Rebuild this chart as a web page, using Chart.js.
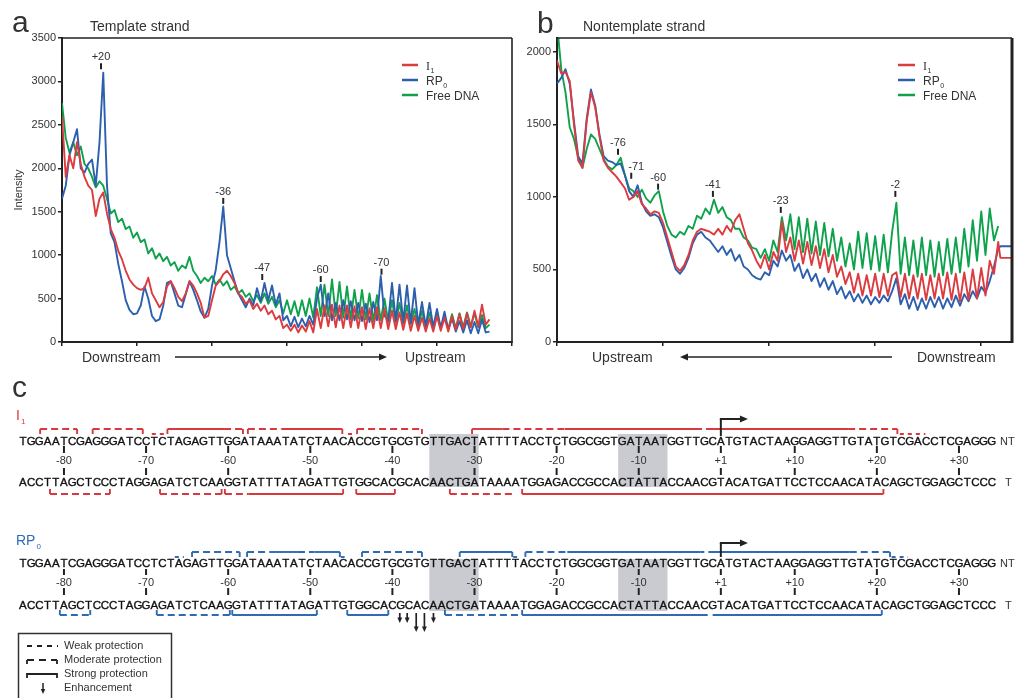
<!DOCTYPE html>
<html lang="en">
<head>
<meta charset="UTF-8">
<title>Footprinting traces</title>
<script src="https://cdn.jsdelivr.net/npm/chart.js"></script>
<style>
  body { margin: 0; background: #fff; }
  #page { position: relative; width: 1018px; height: 698px; overflow: hidden; }
  canvas { position: absolute; }
</style>
</head>
<body>
<div id="page">
  <canvas id="chartA" style="left:0;top:0" width="515" height="372"></canvas>
  <canvas id="chartB" style="left:515px;top:0" width="503" height="372"></canvas>
  <canvas id="chartC" style="left:0;top:372px" width="1018" height="326"></canvas>
</div>
<script>
// ---------- panel a : template strand (one sample every 5 x-units) ----------
const aStep = 5;
const aGreen = [2750,2350,2180,2300,2150,2250,2050,2000,1900,1780,
  1850,1800,1650,1480,1520,1380,1420,1300,1330,1200,
  1260,1150,1180,1020,1080,960,1020,930,980,880,
  920,820,880,850,980,820,760,680,740,700,
  760,660,720,650,700,600,640,560,600,520,
  560,470,540,450,560,440,520,400,480,330,
  480,320,470,300,480,300,500,280,630,300,
  660,300,720,300,690,280,640,260,600,270,
  600,260,560,240,540,250,500,230,480,220,
  450,210,420,200,380,180,360,170,340,170,
  320,160,300,150,320,160,330,170,340,180,
  330,170,310,160,200];
const aBlue = [1650,1800,2150,2300,2450,2000,1950,2050,2100,1800,
  2300,3100,1800,1250,1150,900,700,480,370,320,
  330,420,640,500,300,240,260,420,680,700,
  560,420,400,550,700,600,480,350,280,380,
  650,830,1150,1560,1000,850,700,560,480,400,
  500,420,620,470,680,480,650,430,560,250,
  300,180,290,170,270,180,300,200,500,660,
  300,560,250,450,250,480,260,470,250,450,
  240,440,230,460,250,760,300,250,680,240,
  660,230,650,220,620,200,460,180,450,170,
  380,160,350,140,270,120,240,110,250,100,
  230,100,260,110,120];
const aRed = [2600,1900,2150,2000,2300,2050,1900,1800,1750,1450,
  1650,1720,1480,1300,1200,1050,950,820,720,660,
  620,600,620,740,560,480,400,460,640,700,
  620,520,470,560,700,650,560,450,280,300,
  480,650,700,780,820,760,680,560,520,440,
  480,380,440,360,420,320,360,260,300,160,
  200,130,200,110,190,120,240,110,380,160,
  420,180,430,170,420,160,420,170,410,160,
  400,150,390,160,400,160,380,150,360,150,
  340,140,330,130,300,130,280,120,270,120,
  300,130,280,120,300,140,320,150,330,170,
  360,180,430,200,260];
const aXTicks = [0, 100, 200, 300, 400, 500, 600];
const aYTicks = [0, 500, 1000, 1500, 2000, 2500, 3000, 3500];
const aPeakX = [52, 215, 267, 345, 426];
const aPeakY = [3140, 1590, 714, 690, 775];
const aPeakText = ['+20', '-36', '-47', '-60', '-70'];

// ---------- panel b : nontemplate strand (one sample every 4 x-units) ----------
const bStep = 4;
const bGreen = [2200,1880,1720,1480,1400,1270,1200,1330,1430,1400,
  1330,1260,1210,1190,1220,1270,1150,1060,1040,1000,
  1050,990,960,1010,1040,900,800,740,720,760,
  740,800,780,870,850,920,880,980,890,930,
  860,840,780,780,720,700,650,640,580,640,
  560,700,620,860,700,880,640,860,620,850,
  610,830,600,820,590,780,560,720,520,680,
  500,760,510,750,500,730,490,740,480,760,
  960,470,720,460,700,450,720,460,700,450,
  690,460,710,470,720,480,780,520,840,560,
  900,600,920,700,800];
const bRed = [1940,1850,1860,1800,1500,1250,1200,1520,1720,1620,
  1420,1250,1200,1170,1140,1100,1060,980,1000,1040,
  950,920,880,900,890,820,720,620,520,490,
  530,600,700,760,780,770,760,740,780,740,
  800,760,840,880,780,680,630,560,510,600,
  500,620,560,830,620,720,560,700,540,690,
  530,660,510,640,480,600,450,520,400,480,
  340,470,320,460,320,470,310,470,320,460,
  480,310,470,300,460,300,470,290,460,300,
  470,300,480,290,470,280,480,290,500,300,
  510,320,560,470,690];
const bBlue = [1780,1820,1880,1780,1520,1280,1230,1540,1740,1630,
  1430,1280,1250,1240,1220,1230,1150,1040,1000,1080,
  960,900,870,880,860,790,690,590,500,470,
  510,580,680,740,760,720,700,660,620,660,
  600,640,560,600,520,500,460,440,430,480,
  460,560,520,630,560,600,490,540,440,500,
  420,470,380,440,360,420,330,380,300,350,
  280,330,270,320,260,310,270,320,280,350,
  440,260,330,230,310,220,300,230,310,240,
  310,230,300,240,320,250,330,280,350,300,
  380,340,420,520,640];
const bTailX = [418, 429];
const bRedTail = [580, 580];
const bBlueTail = [660, 660];
const bXTicks = [0, 100, 200, 300, 400];
const bYTicks = [0, 500, 1000, 1500, 2000];
const bPeakX = [57.5, 70, 95.3, 147, 211, 319];
const bPeakY = [1290, 1125, 1050, 1000, 890, 1000];
const bPeakText = ['-76', '-71', '-60', '-41', '-23', '-2'];

const keyNames = ['I', 'RP', 'Free DNA'];
const keySubs = ['1', '0', ''];

// ---------- panel c : sequence (index 0 = position -85) ----------
const ntSeq = 'TGGAATCGAGGGATCCTCTAGAGTTGGATAAATATCTAACACCGTGCGTGTTGACTATTTTACCTCTGGCGGTGATAATGGTTGCATGTACTAAGGAGGTTGTATGTCGACCTCGAGGG';
const tSeq  = 'ACCTTAGCTCCCTAGGAGATCTCAAGGTATTTATAGATTGTGGCACGCACAACTGATAAAATGGAGACCGCCACTATTACCAACGTACATGATTCCTCCAACATACAGCTGGAGCTCCC';
const posLabels = ['-80','-70','-60','-50','-40','-30','-20','-10','+1','+10','+20','+30'];
const posIdx = [5, 15, 25, 35, 45, 55, 65, 75, 85, 94, 104, 114];
const boxSpans = [[49.5, 55.5], [72.5, 78.5]];
const tssIdx = 85;

// protection runs: [from, to, strength, lowered]
const i1TopRuns = [[2.1,6.6,'m'],[8.5,14.6,'m'],[15.7,17.5,'w',1],[17.6,24.5,'s'],[24.5,26.8,'m'],
  [27.4,31.5,'m'],[31.5,38.9,'s'],[39.6,40.6,'w',1],[40.7,48.6,'m'],[54.7,58.4,'s'],[58.4,66.0,'m'],
  [66.0,82.7,'s'],[83.2,100.5,'s'],[100.5,106.5,'m'],[106.8,109.9,'w',1]];
const i1TopBr = [2.1,6.6,8.5,14.6,17.6,26.8,27.4,38.9,40.7,48.6,54.7,106.5];
const i1BotRuns = [[3.3,10.6,'m'],[16.7,24.2,'m'],[24.6,27.5,'m'],[27.5,39.0,'s'],[40.6,45.3,'s'],
  [52.0,59.9,'m'],[60.8,104.8,'s']];
const i1BotBr = [3.3,10.6,16.7,24.2,24.6,39.0,40.6,45.3,52.0,60.8,104.8];
const rpTopRuns = [[18.5,19.6,'w',1],[20.6,26.4,'m'],[27.3,30.0,'m'],[30.0,33.5,'s'],[33.5,35.5,'m'],
  [35.5,38.6,'s'],[38.7,39.6,'w',1],[41.3,48.6,'m'],[53.2,59.6,'s'],[59.7,60.6,'w',1],[61.2,66.3,'m'],
  [66.3,82.5,'s'],[82.5,83.8,'w'],[83.8,100.7,'s'],[100.7,105.6,'m'],[105.8,107.8,'w',1]];
const rpTopBr = [20.6,26.4,27.3,38.6,41.3,48.6,53.2,59.6,61.2,105.6];
const rpBotRuns = [[4.5,8.2,'m'],[16.3,25.2,'m'],[25.5,35.8,'s'],[39.5,44.5,'s'],[51.4,60.5,'m'],
  [60.8,83.4,'s'],[84.0,104.6,'s']];
const rpBotBr = [4.5,8.2,16.3,25.2,25.5,35.8,39.5,44.5,51.4,60.8,104.6];
const enhIdx = [45.9, 46.8, 47.9, 48.9, 50.0];
const enhLong = [0, 0, 1, 1, 0];

const RED = '#dc3b3f', BLUE = '#2c5fae', GREEN = '#0fa24d';
const C_RED = '#d9383c', C_BLUE = '#2f6bb5';
const FONT = '"Liberation Sans", Arial, Helvetica, sans-serif';
Chart.defaults.font.family = FONT;
Chart.defaults.color = '#333';

function pts(ys, step) { return ys.map((v, i) => ({ x: i * step, y: v })); }
function tail(xs, ys) { return xs.map((x, k) => ({ x: x, y: ys[k] })); }

function arrow(ctx, x0, y0, x1, y1, size) {
  const ang = Math.atan2(y1 - y0, x1 - x0);
  ctx.beginPath(); ctx.moveTo(x0, y0);
  ctx.lineTo(x1 - Math.cos(ang) * size * 0.8, y1 - Math.sin(ang) * size * 0.8); ctx.stroke();
  ctx.beginPath(); ctx.moveTo(x1, y1);
  ctx.lineTo(x1 - size * Math.cos(ang) + size * 0.45 * Math.sin(ang), y1 - size * Math.sin(ang) - size * 0.45 * Math.cos(ang));
  ctx.lineTo(x1 - size * Math.cos(ang) - size * 0.45 * Math.sin(ang), y1 - size * Math.sin(ang) + size * 0.45 * Math.cos(ang));
  ctx.closePath(); ctx.fill();
}

// box lines on top and right of the plot
const frame = {
  id: 'frame',
  afterDraw(chart, args, o) {
    const { ctx, chartArea: a } = chart;
    ctx.save(); ctx.strokeStyle = '#222';
    ctx.lineWidth = o.top; ctx.beginPath(); ctx.moveTo(a.left, a.top); ctx.lineTo(a.right, a.top); ctx.stroke();
    ctx.lineWidth = o.right; ctx.beginPath(); ctx.moveTo(a.right, a.top); ctx.lineTo(a.right, a.bottom + 1); ctx.stroke();
    ctx.restore();
  }
};

// peak labels with a small tick above the trace
const peaks = {
  id: 'peaks',
  afterDatasetsDraw(chart, args, o) {
    const { ctx, scales: { x, y } } = chart;
    ctx.save();
    o.xs.forEach((v, k) => {
      const px = x.getPixelForValue(v), py = y.getPixelForValue(o.ys[k]);
      ctx.strokeStyle = '#222'; ctx.lineWidth = 2;
      ctx.beginPath(); ctx.moveTo(px, py); ctx.lineTo(px, py - 6); ctx.stroke();
      ctx.font = '11px ' + FONT; ctx.fillStyle = '#333';
      ctx.textAlign = 'center'; ctx.textBaseline = 'alphabetic';
      ctx.fillText(o.labels[k], px + (o.dx ? o.dx[k] : 0), py - 9);
    });
    ctx.restore();
  }
};

// legend with subscripts
const key = {
  id: 'key',
  afterDraw(chart, args, o) {
    const ctx = chart.ctx;
    ctx.save();
    keyNames.forEach((n, k) => {
      const y = o.y0 + k * o.dy;
      ctx.strokeStyle = o.colors[k]; ctx.lineWidth = 2.5;
      ctx.beginPath(); ctx.moveTo(o.x0, y); ctx.lineTo(o.x1, y); ctx.stroke();
      ctx.fillStyle = '#333'; ctx.textAlign = 'left'; ctx.textBaseline = 'alphabetic';
      ctx.font = (n === 'I' ? '12px "Liberation Serif", serif' : '12px ' + FONT);
      ctx.fillText(n, o.tx, y + 4.5);
      if (keySubs[k]) {
        const w = ctx.measureText(n).width;
        ctx.font = '7px ' + FONT;
        ctx.fillText(keySubs[k], o.tx + w + 0.5, y + 7.5);
      }
    });
    ctx.restore();
  }
};

// panel letters, titles and the direction arrows
const notes = {
  id: 'notes',
  afterDraw(chart, args, o) {
    const ctx = chart.ctx;
    ctx.save();
    o.texts.forEach(t => {
      ctx.font = t.font; ctx.fillStyle = '#333'; ctx.textAlign = 'left'; ctx.textBaseline = 'alphabetic';
      ctx.fillText(t.text, t.x, t.y);
    });
    ctx.strokeStyle = '#222'; ctx.fillStyle = '#222'; ctx.lineWidth = 1.6;
    o.arrows.forEach(a => arrow(ctx, a[0], a[2], a[1], a[2], 8));
    ctx.restore();
  }
};

function traceScales(xMax, xTicks, yMax, yTicks, yWidth, title) {
  return {
    x: {
      type: 'linear', min: 0, max: xMax,
      afterBuildTicks: s => { s.ticks = xTicks.map(v => ({ value: v })); },
      ticks: { display: false },
      grid: { drawOnChartArea: false, drawTicks: true, tickLength: 4, color: '#222', lineWidth: 1.5 },
      border: { color: '#222', width: 2 },
      afterFit: s => { s.height = 30; }
    },
    y: {
      type: 'linear', min: 0, max: yMax,
      afterBuildTicks: s => { s.ticks = yTicks.map(v => ({ value: v })); },
      ticks: { font: { size: 11 }, color: '#333', padding: 2, callback: v => String(v) },
      grid: { drawOnChartArea: false, drawTicks: true, tickLength: 4, color: '#222', lineWidth: 1.5 },
      border: { color: '#222', width: 2 },
      title: { display: !!title, text: title || '', font: { size: 11 }, color: '#333', padding: { top: 12, bottom: 0 } },
      afterFit: s => { s.width = yWidth; }
    }
  };
}

function traceSet(label, data, color, order) {
  return { label: label, data: data, borderColor: color, backgroundColor: color, borderWidth: 1.9,
    borderJoinStyle: 'round', order: order, pointRadius: 0, tension: 0 };
}

new Chart(document.getElementById('chartA'), {
  type: 'line',
  data: { datasets: [
    traceSet('I₁', pts(aRed, aStep), RED, 1),
    traceSet('RP₀', pts(aBlue, aStep), BLUE, 2),
    traceSet('Free DNA', pts(aGreen, aStep), GREEN, 3)
  ] },
  options: {
    responsive: false, animation: false,
    layout: { padding: { top: 38, right: 3, left: 0, bottom: 0 } },
    scales: traceScales(600, aXTicks, 3500, aYTicks, 62, 'Intensity'),
    plugins: {
      legend: { display: false }, tooltip: { enabled: false },
      frame: { top: 1.6, right: 1.6 },
      peaks: { xs: aPeakX, ys: aPeakY, labels: aPeakText },
      key: { x0: 402, x1: 418, tx: 426, y0: 65, dy: 15, colors: [RED, BLUE, GREEN] },
      notes: {
        texts: [
          { text: 'a', x: 12, y: 32, font: '30px ' + FONT },
          { text: 'Template strand', x: 90, y: 31, font: '14px ' + FONT },
          { text: 'Downstream', x: 82, y: 362, font: '14px ' + FONT },
          { text: 'Upstream', x: 405, y: 362, font: '14px ' + FONT }
        ],
        arrows: [[175, 387, 357]]
      }
    }
  },
  plugins: [frame, peaks, key, notes]
});

new Chart(document.getElementById('chartB'), {
  type: 'line',
  data: { datasets: [
    traceSet('I₁', pts(bRed, bStep).concat(tail(bTailX, bRedTail)), RED, 1),
    traceSet('RP₀', pts(bBlue, bStep).concat(tail(bTailX, bBlueTail)), BLUE, 2),
    traceSet('Free DNA', pts(bGreen, bStep), GREEN, 3)
  ] },
  options: {
    responsive: false, animation: false,
    layout: { padding: { top: 38, right: 6, left: 0, bottom: 0 } },
    scales: traceScales(429, bXTicks, 2095, bYTicks, 42, ''),
    plugins: {
      legend: { display: false }, tooltip: { enabled: false },
      frame: { top: 1.6, right: 3 },
      peaks: { xs: bPeakX, ys: bPeakY, labels: bPeakText, dx: [0, 5, 0, 0, 0, 0] },
      key: { x0: 383, x1: 400, tx: 408, y0: 65, dy: 15, colors: [RED, BLUE, GREEN] },
      notes: {
        texts: [
          { text: 'b', x: 22, y: 33, font: '30px ' + FONT },
          { text: 'Nontemplate strand', x: 68, y: 31, font: '14px ' + FONT },
          { text: 'Upstream', x: 77, y: 362, font: '14px ' + FONT },
          { text: 'Downstream', x: 402, y: 362, font: '14px ' + FONT }
        ],
        arrows: [[377, 165, 357]]
      }
    }
  },
  plugins: [frame, peaks, key, notes]
});

// ---------- panel c ----------
const blocks = [
  { name: 'I', sub: '1', color: C_RED, labelY: 420, ntY: 442, tY: 483, topY: 429, botY: 494,
    box: [434, 487], tick1: [446, 453], numY: 461, tick2: [468, 475], tssTop: 419, tssBot: 436,
    topRuns: i1TopRuns, topBr: i1TopBr, botRuns: i1BotRuns, botBr: i1BotBr, enh: false },
  { name: 'RP', sub: '0', color: C_BLUE, labelY: 545, ntY: 564, tY: 606, topY: 552, botY: 615,
    box: [559, 611], tick1: [569, 575], numY: 583, tick2: [588, 595], tssTop: 543, tssBot: 557,
    topRuns: rpTopRuns, topBr: rpTopBr, botRuns: rpBotRuns, botBr: rpBotBr, enh: true }
];
const DASH = { w: [4, 4], m: [7, 4], s: [] };
const BR = 5;

const protSets = [];
blocks.forEach(b => {
  [[b.topRuns, b.topBr, b.topY, 1], [b.botRuns, b.botBr, b.botY, -1]].forEach(([runs, brs, lineY, dir]) => {
    runs.forEach(r => {
      const y = r[3] ? lineY + dir * BR : lineY;
      protSets.push({ data: [{ x: r[0], y: y }, { x: r[1], y: y }], borderColor: b.color,
        borderWidth: 1.9, borderDash: DASH[r[2]], pointRadius: 0 });
    });
    brs.forEach(v => {
      protSets.push({ data: [{ x: v, y: lineY }, { x: v, y: lineY + dir * BR }], borderColor: b.color,
        borderWidth: 1.9, pointRadius: 0 });
    });
  });
});

const seqPlug = {
  id: 'seq',
  beforeDatasetsDraw(chart) {
    const { ctx, scales: { x, y } } = chart;
    ctx.save(); ctx.fillStyle = '#c9cbd1';
    blocks.forEach(b => boxSpans.forEach(([s, e]) => {
      const x0 = x.getPixelForValue(s), x1 = x.getPixelForValue(e);
      const y0 = y.getPixelForValue(b.box[0]), y1 = y.getPixelForValue(b.box[1]);
      ctx.fillRect(x0, y0, x1 - x0, y1 - y0);
    }));
    ctx.restore();
  },
  afterDatasetsDraw(chart) {
    const { ctx, scales: { x, y } } = chart;
    const Y = v => y.getPixelForValue(v);
    ctx.save();
    ctx.font = '30px ' + FONT; ctx.fillStyle = '#333'; ctx.textAlign = 'left'; ctx.textBaseline = 'alphabetic';
    ctx.fillText('c', 12, Y(397));
    blocks.forEach(b => {
      // block label
      ctx.fillStyle = b.color; ctx.textBaseline = 'alphabetic'; ctx.textAlign = 'left';
      ctx.font = '14px ' + FONT; ctx.fillText(b.name, 16, Y(b.labelY));
      const w = ctx.measureText(b.name).width;
      ctx.font = '8px ' + FONT; ctx.fillText(b.sub, 16 + w + 1, Y(b.labelY + 4));
      // strands
      ctx.fillStyle = '#111'; ctx.strokeStyle = '#111'; ctx.lineWidth = 0.35;
      ctx.font = '11.5px ' + FONT; ctx.textAlign = 'center'; ctx.textBaseline = 'middle';
      for (let i = 0; i < ntSeq.length; i++) {
        const lx = x.getPixelForValue(i);
        ctx.fillText(ntSeq[i], lx, Y(b.ntY)); ctx.strokeText(ntSeq[i], lx, Y(b.ntY));
        ctx.fillText(tSeq[i], lx, Y(b.tY)); ctx.strokeText(tSeq[i], lx, Y(b.tY));
      }
      ctx.fillStyle = '#333'; ctx.font = '11px ' + FONT; ctx.textAlign = 'left';
      ctx.fillText('NT', 1000, Y(b.ntY));
      ctx.fillText('T', 1005, Y(b.tY));
      // position ticks
      ctx.strokeStyle = '#222'; ctx.lineWidth = 2; ctx.textAlign = 'center';
      posIdx.forEach((p, k) => {
        const px = x.getPixelForValue(p);
        ctx.beginPath(); ctx.moveTo(px, Y(b.tick1[0])); ctx.lineTo(px, Y(b.tick1[1]));
        ctx.moveTo(px, Y(b.tick2[0])); ctx.lineTo(px, Y(b.tick2[1])); ctx.stroke();
        ctx.fillText(posLabels[k], px, Y(b.numY));
      });
      // transcription start
      const sx = x.getPixelForValue(tssIdx);
      ctx.lineWidth = 2; ctx.fillStyle = '#222';
      ctx.beginPath(); ctx.moveTo(sx, Y(b.tssBot)); ctx.lineTo(sx, Y(b.tssTop)); ctx.stroke();
      arrow(ctx, sx - 1, Y(b.tssTop), x.getPixelForValue(tssIdx + 3.3), Y(b.tssTop), 8);
      // enhancements
      if (b.enh) {
        ctx.lineWidth = 1.7;
        enhIdx.forEach((e, k) => {
          const ex = x.getPixelForValue(e);
          arrow(ctx, ex, Y(613), ex, Y(enhLong[k] ? 632 : 623), 5.5);
        });
      }
    });
    // key box
    ctx.strokeStyle = '#333'; ctx.lineWidth = 1.5;
    ctx.strokeRect(18.5, Y(633.5), 153, 80);
    const keyRows = ['Weak protection', 'Moderate protection', 'Strong protection', 'Enhancement'];
    const ky = [646, 660, 674, 688];
    ctx.fillStyle = '#333'; ctx.font = '11px ' + FONT; ctx.textAlign = 'left'; ctx.textBaseline = 'middle';
    keyRows.forEach((t, k) => ctx.fillText(t, 64, Y(ky[k])));
    ctx.strokeStyle = '#222'; ctx.fillStyle = '#222'; ctx.lineWidth = 1.8;
    ctx.setLineDash([5, 5]);
    ctx.beginPath(); ctx.moveTo(27, Y(ky[0])); ctx.lineTo(58, Y(ky[0])); ctx.stroke();
    ctx.setLineDash([7, 5]);
    ctx.beginPath(); ctx.moveTo(27, Y(ky[1])); ctx.lineTo(57, Y(ky[1])); ctx.stroke();
    ctx.setLineDash([]);
    ctx.beginPath(); ctx.moveTo(27, Y(ky[1] + 4)); ctx.lineTo(27, Y(ky[1])); ctx.moveTo(57, Y(ky[1])); ctx.lineTo(57, Y(ky[1] + 4));
    ctx.moveTo(27, Y(ky[2] + 4)); ctx.lineTo(27, Y(ky[2])); ctx.lineTo(57, Y(ky[2])); ctx.lineTo(57, Y(ky[2] + 4)); ctx.stroke();
    ctx.lineWidth = 1.5;
    arrow(ctx, 43, Y(683), 43, Y(694), 5);
    ctx.restore();
  }
};

new Chart(document.getElementById('chartC'), {
  type: 'line',
  data: { datasets: protSets },
  options: {
    responsive: false, animation: false,
    layout: { padding: 0 },
    scales: {
      x: { type: 'linear', display: false, min: -2.789, max: 121.19 },
      y: { type: 'linear', display: false, min: 372, max: 698, reverse: true }
    },
    plugins: { legend: { display: false }, tooltip: { enabled: false } }
  },
  plugins: [seqPlug]
});
</script>
</body>
</html>
